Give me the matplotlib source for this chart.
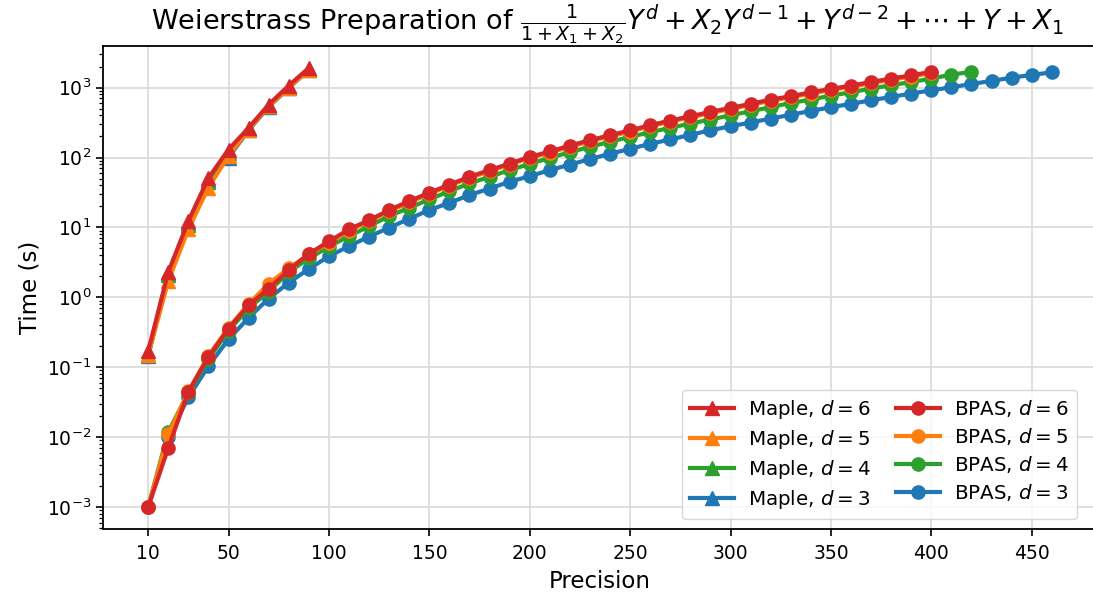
import matplotlib
matplotlib.use("Agg")
import matplotlib.pyplot as plt

# ---------------- data ----------------
maple_x = [10, 20, 30, 40, 50, 60, 70, 80, 90]
maple_d6 = [0.171, 2.3, 12.3, 51, 130, 266, 571, 1070, 1910]
maple_d5 = [0.150, 1.7, 9.4, 37, 105, 250, 540, 1000, 1800]
maple_d4 = [0.148, 2.1, 11.0, 45, 115, 255, 545, 1010, 1820]
maple_d3 = [0.145, 2.2, 11.5, 47, 100, 245, 530, 990, 1790]

bpas_x = list(range(10, 470, 10))
bpas_d6 = [0.001, 0.0070, 0.0445, 0.141, 0.356, 0.77, 1.33, 2.45, 4.2, 6.3,
           9.4, 12.7, 17.7, 23.8, 31.3, 41, 53, 66, 82, 102,
           122, 148, 177, 208, 245, 290, 338, 389, 449, 513,
           585, 674, 752, 857, 957, 1068, 1205, 1345, 1500, 1675]
bpas_d5 = [0.001, 0.011, 0.045, 0.145, 0.37, 0.80, 1.57, 2.6, 4.1, 6.0,
           9.0, 12.2, 17.0, 22.8, 30, 39.5, 51, 63.5, 79, 98,
           117, 142, 170, 200, 235, 278, 325, 374, 431, 493,
           562, 647, 722, 823, 919, 1025, 1157, 1291, 1440, 1608]
bpas_d4 = [0.001, 0.0119, 0.043, 0.13, 0.33, 0.70, 1.2, 2.3, 3.6, 5.3,
           7.5, 10.4, 14.5, 19.1, 25.1, 33, 42.5, 53, 66, 81,
           99, 119, 142, 168, 197, 230, 266, 306, 349, 402,
           459, 524, 604, 674, 769, 857, 968, 1080, 1205, 1345,
           1534, 1675]
bpas_d3 = [0.001, 0.010, 0.037, 0.104, 0.251, 0.51, 0.96, 1.62, 2.55, 3.85,
           5.4, 7.4, 9.9, 13.3, 17.7, 22.5, 29, 36, 45, 54,
           66, 79, 95, 113, 133, 157, 181, 211, 245, 280,
           316, 361, 408, 464, 524, 585, 659, 736, 821, 916,
           1011, 1128, 1245, 1389, 1517, 1655]

x_ticks = [10, 50, 100, 150, 200, 250, 300, 350, 400, 450]

colors = {6: "#d62728", 5: "#ff7f0e", 4: "#2ca02c", 3: "#1f77b4"}
maple = {6: maple_d6, 5: maple_d5, 4: maple_d4, 3: maple_d3}
bpas = {6: bpas_d6, 5: bpas_d5, 4: bpas_d4, 3: bpas_d3}

# ---------------- figure ----------------
W, H = 1093, 601
fig = plt.figure(figsize=(W / 100, H / 100), dpi=100)
ax = fig.add_axes([103 / W, 1 - 529 / H, (1097 - 103) / W, (529 - 46) / H])

handles = {}
for d in [3, 4, 5, 6]:
    (h,) = ax.plot(maple_x, maple[d], marker="^", color=colors[d], lw=3,
                   ms=9.5, label=f"Maple, $d={d}$")
    handles[("m", d)] = h
for d in [3, 4, 5, 6]:
    ys = bpas[d]
    (h,) = ax.plot(bpas_x[:len(ys)], ys, marker="o", color=colors[d], lw=3,
                   ms=9.5, label=f"BPAS, $d={d}$")
    handles[("b", d)] = h

ax.set_yscale("log")
ax.set_xticks(x_ticks)
ax.grid(True, which="major", color="#dcdcdc", lw=1.3)
ax.set_axisbelow(True)
ax.tick_params(axis="both", which="major", labelsize=13.5, length=5, width=1.2)
ax.tick_params(axis="x", which="major", pad=6)
ax.tick_params(axis="both", which="minor", length=2.8, width=0.9)
for s in ax.spines.values():
    s.set_linewidth(1.3)

ax.set_xlabel("Precision", fontsize=16.5, labelpad=5)
ax.set_ylabel("Time (s)", fontsize=16.5, labelpad=4)
ax.set_title(r"Weierstrass Preparation of $\frac{1}{1+X_1+X_2}Y^d+X_2Y^{d-1}+Y^{d-2}+\cdots+Y+X_1$",
             fontsize=19.5, x=(607 - 103) / (1097 - 103), pad=6)

order = [("m", 6), ("m", 5), ("m", 4), ("m", 3), ("b", 6), ("b", 5), ("b", 4), ("b", 3)]
hs = [handles[k] for k in order]
ax.legend(hs, [h.get_label() for h in hs], ncol=2, fontsize=14.3,
          loc="lower right", bbox_to_anchor=(1077 / W, 1 - 519 / H),
          bbox_transform=fig.transFigure, borderaxespad=0,
          labelspacing=0.36, columnspacing=1.3, handlelength=2.2,
          handletextpad=0.7)

fig.savefig("out.png", dpi=100)
